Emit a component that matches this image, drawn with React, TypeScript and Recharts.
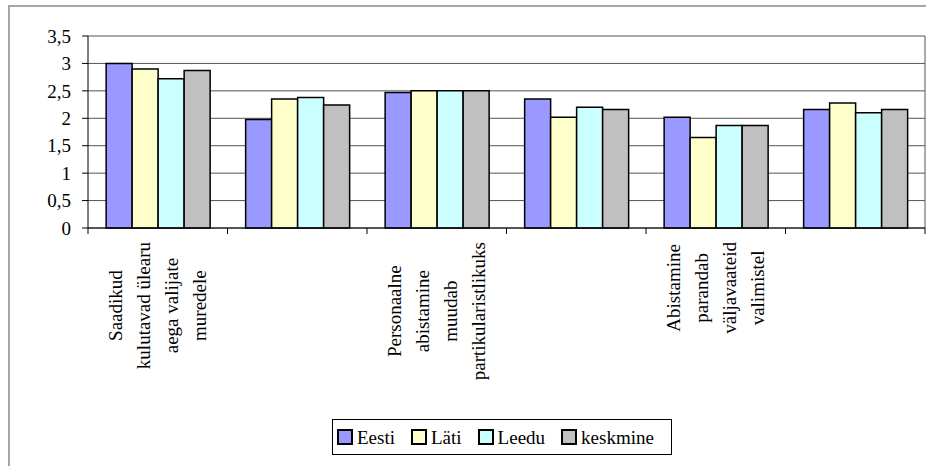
import React from 'react';
import { BarChart, Bar, XAxis, YAxis, CartesianGrid, Legend } from 'recharts';

// category labels (one entry per group, split into lines as in the original)
const categoryLines: string[][] = [
  ['Saadikud', 'kulutavad ülearu', 'aega valijate', 'muredele'],
  [],
  ['Personaalne', 'abistamine', 'muudab', 'partikularistlikuks'],
  [],
  ['Abistamine', 'parandab', 'väljavaateid', 'valimistel'],
  [],
];

const seriesKeys = ['eesti', 'lati', 'leedu', 'keskmine'];
const seriesNames = ['Eesti', 'Läti', 'Leedu', 'keskmine'];
const seriesColors = ['#9999FF', '#FFFFCC', '#CCFFFF', '#C0C0C0'];

const eesti = [3.0, 1.98, 2.47, 2.35, 2.02, 2.16];
const lati = [2.9, 2.35, 2.5, 2.02, 1.65, 2.28];
const leedu = [2.72, 2.38, 2.5, 2.2, 1.87, 2.1];
const keskmine = [2.87, 2.24, 2.5, 2.16, 1.87, 2.16];

const yTicks = [0, 0.5, 1, 1.5, 2, 2.5, 3, 3.5];

const data = categoryLines.map((lines, i) => ({
  key: `c${i}`,
  eesti: eesti[i],
  lati: lati[i],
  leedu: leedu[i],
  keskmine: keskmine[i],
}));

// no serif face in the sandbox, so a sans one sized to the original widths
const FONT = "'Liberation Serif', 'Liberation Sans', Arial, sans-serif";
const FS = 19;
const W = 926;
const H = 466;
const MARGIN = { top: 36, right: 1, left: 28, bottom: 38 };
const Y_WIDTH = 60;
const PLOT_W = W - MARGIN.left - Y_WIDTH - MARGIN.right;
const BAND = PLOT_W / categoryLines.length;
const LINE_GAP = 28;

let ctx: CanvasRenderingContext2D | null = null;
function textWidth(s: string) {
  if (!ctx && typeof document !== 'undefined') {
    ctx = document.createElement('canvas').getContext('2d');
  }
  if (ctx) {
    ctx.font = `${FS}px ${FONT}`;
    return ctx.measureText(s).width;
  }
  return s.length * 9;
}

function CategoryTick(props: any) {
  const { x, y, payload } = props;
  const i = payload?.index ?? props.index ?? 0;
  const lines = categoryLines[i] || [];
  const half = BAND / 2;
  const longest = lines.length ? Math.max(...lines.map(textWidth)) : 0;
  const cy = 14 + longest / 2;
  return (
    <g transform={`translate(${x},${y})`}>
      <line x1={-half} y1={0} x2={-half} y2={6} stroke="#000" />
      {i === categoryLines.length - 1 && <line x1={half} y1={0} x2={half} y2={6} stroke="#000" />}
      {lines.map((t, k) => (
        <text
          key={k}
          transform={`translate(${(k - (lines.length - 1) / 2) * LINE_GAP},${cy}) rotate(-90)`}
          textAnchor="middle"
          dominantBaseline="central"
          fontFamily={FONT}
          fontSize={FS}
          fill="#000"
        >
          {t}
        </text>
      ))}
    </g>
  );
}

function LegendBox({ payload }: any) {
  const items = [...(payload || [])].sort(
    (a: any, b: any) => seriesNames.indexOf(a.value) - seriesNames.indexOf(b.value)
  );
  return (
    <div
      style={{
        display: 'inline-flex',
        alignItems: 'center',
        boxSizing: 'border-box',
        border: '1px solid #000',
        background: '#fff',
        height: 36,
        width: 340,
        padding: '0 0 0 4px',
        fontFamily: FONT,
        fontSize: FS,
        color: '#000',
        whiteSpace: 'nowrap',
      }}
    >
      {items.map((p: any, i: number) => (
        <span key={i} style={{ display: 'flex', alignItems: 'center', marginLeft: i ? 16 : 0 }}>
          <span style={{ width: 12, height: 12, border: '2px solid #000', background: p.color, marginRight: 4 }} />
          <span>{p.value}</span>
        </span>
      ))}
    </div>
  );
}

export default function App() {
  return (
    <div style={{ position: 'absolute', left: 0, top: 0, width: W, height: H, overflow: 'hidden', background: '#fff' }}>
      <div
        style={{
          position: 'absolute',
          left: 8,
          top: 5,
          width: 1000,
          height: 1000,
          borderTop: '2px solid #a6a6a6',
          borderLeft: '2px solid #a6a6a6',
        }}
      />
      <BarChart width={W} height={H} data={data} margin={MARGIN} barCategoryGap="13%" barGap={0}>
        <CartesianGrid
          stroke="#555"
          verticalCoordinatesGenerator={({ offset }: any) => [offset.left + offset.width]}
        />
        <XAxis
          dataKey="key"
          height={200}
          interval={0}
          tickSize={0}
          tickMargin={0}
          axisLine={{ stroke: '#000' }}
          tick={<CategoryTick />}
        />
        <YAxis
          width={Y_WIDTH}
          domain={[0, 3.5]}
          ticks={yTicks}
          interval={0}
          tickSize={6}
          tickMargin={11}
          axisLine={{ stroke: '#000' }}
          tickLine={{ stroke: '#000' }}
          tick={{ fill: '#000', fontFamily: FONT, fontSize: FS }}
          tickFormatter={(v: number) => String(v).replace('.', ',')}
        />
        <Legend
          layout="horizontal"
          verticalAlign="middle"
          align="center"
          content={<LegendBox />}
          wrapperStyle={{ left: 332, top: 419, width: 'auto', height: 'auto', lineHeight: 1 }}
        />
        {seriesKeys.map((k, i) => (
          <Bar
            key={k}
            dataKey={k}
            name={seriesNames[i]}
            fill={seriesColors[i]}
            stroke="#000"
            strokeWidth={1.5}
            isAnimationActive={false}
          />
        ))}
      </BarChart>
    </div>
  );
}
